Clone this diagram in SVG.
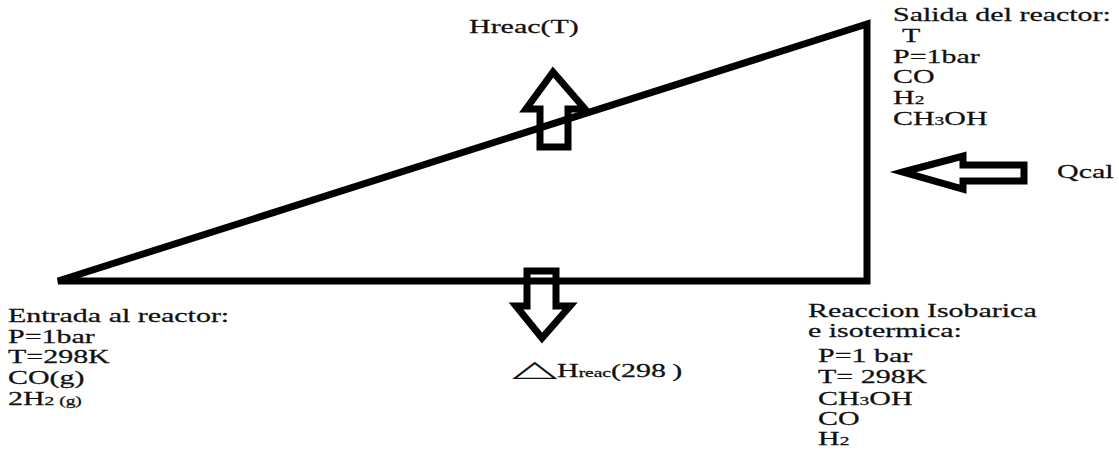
<svg xmlns="http://www.w3.org/2000/svg" width="1119" height="453" viewBox="0 0 1119 453">
<style>
.t{font-family:"Liberation Serif","Times New Roman",serif;font-size:18.5px;fill:#111;stroke:#111;stroke-width:0.25px}
.s{font-size:12px}
.ln{fill:none;stroke:#000;stroke-width:7;stroke-linejoin:miter}
.ar{fill:none;stroke:#000;stroke-width:7;stroke-linejoin:miter}
.sym{font-family:"DejaVu Sans",sans-serif;fill:#111}
</style>
<rect width="1119" height="453" fill="#fff"/>
<g id="arrows">
<polygon id="arrow-up" class="ar" points="553,72 585,109 568,109 568,147 540,147 540,109 526,109"/>
<polygon id="arrow-down" class="ar" points="527,271 556,271 556,306 570,306 542,338 516,306 527,306"/>
<polygon id="arrow-left" class="ar" points="903,172 963,156 963,165 1024,165 1024,181 963,181 963,189"/>
</g>
<g id="connectors">
<polygon id="reactor-triangle" class="ln" points="58,281 867,24 867,281"/>
</g>
<g id="salida">
<text class="t" transform="translate(893,21) scale(1.62,1)">Salida del reactor:</text>
<text class="t" transform="translate(902,42) scale(1.62,1)">T</text>
<text class="t" transform="translate(893,63) scale(1.62,1)">P=1bar</text>
<text class="t" transform="translate(893,83) scale(1.62,1)">CO</text>
<text class="t" transform="translate(893,104) scale(1.62,1)">H<tspan class="s">2</tspan></text>
<text class="t" transform="translate(893,125) scale(1.62,1)">CH<tspan class="s">3</tspan>OH</text>
</g>
<g id="hreac-t">
<text class="t" transform="translate(469,33) scale(1.62,1)">Hreac(T)</text>
</g>
<g id="qcal">
<text class="t" transform="translate(1057,178) scale(1.62,1)">Qcal</text>
</g>
<g id="entrada">
<text class="t" transform="translate(8,322) scale(1.62,1)">Entrada al reactor:</text>
<text class="t" transform="translate(8,343) scale(1.62,1)">P=1bar</text>
<text class="t" transform="translate(8,363) scale(1.62,1)">T=298K</text>
<text class="t" transform="translate(8,384) scale(1.62,1)">CO(g)</text>
<text class="t" transform="translate(8,405) scale(1.62,1)">2H<tspan class="s">2 (g)</tspan></text>
</g>
<g id="reaccion">
<text class="t" transform="translate(808,317) scale(1.62,1)">Reaccion Isobarica</text>
<text class="t" transform="translate(808,337) scale(1.62,1)">e isotermica:</text>
<text class="t" transform="translate(818,362) scale(1.62,1)">P=1 bar</text>
<text class="t" transform="translate(818,383) scale(1.62,1)">T= 298K</text>
<text class="t" transform="translate(818,405) scale(1.62,1)">CH<tspan class="s">3</tspan>OH</text>
<text class="t" transform="translate(818,425) scale(1.62,1)">CO</text>
<text class="t" transform="translate(818,445) scale(1.62,1)">H<tspan class="s">2</tspan></text>
</g>
<g id="hreac-298">
<text class="sym" font-size="16" transform="translate(512,376) scale(3.7,1.4)">△</text>
<text class="t" transform="translate(557,377) scale(1.62,1)">H<tspan class="s">reac</tspan>(298<tspan dx="4">)</tspan></text>
</g>
</svg>
